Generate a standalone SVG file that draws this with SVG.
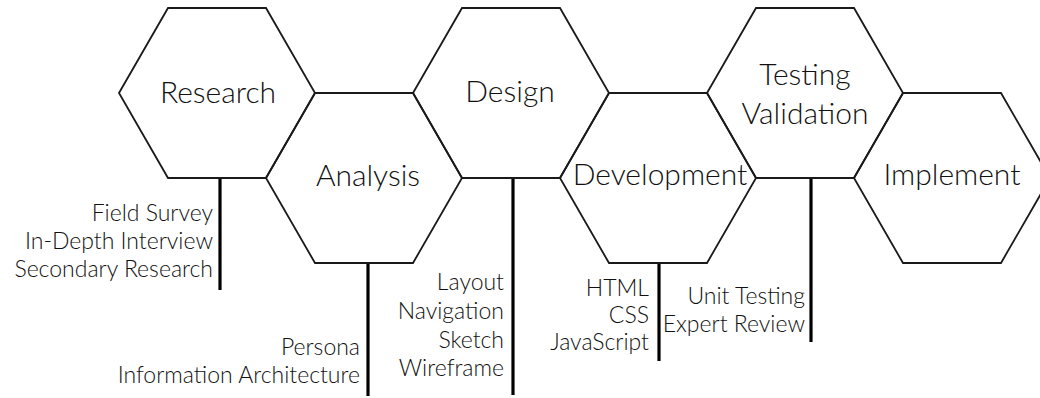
<svg xmlns="http://www.w3.org/2000/svg" xmlns:xlink="http://www.w3.org/1999/xlink" width="1040" height="398" viewBox="0 0 1040 398">
<style>
.hex{fill:none;stroke:#1a1a1a;stroke-width:1.8;stroke-linejoin:miter}
.stem{stroke:#000;stroke-width:3.2;fill:none}
.t{font-family:Lato,"Liberation Sans",sans-serif;font-weight:300;font-size:30px;fill:#111;text-anchor:middle}
.s{font-family:Lato,"Liberation Sans",sans-serif;font-weight:300;font-size:23px;fill:#111;text-anchor:end}
</style>
<defs>
<polygon id="hx" points="-98,0 -49,-85 49,-85 98,0 49,85 -49,85"/>
</defs>
<rect width="1040" height="398" fill="#fff"/>
<g id="connectors">
<line class="stem" x1="220" y1="178" x2="220" y2="290"/>
<line class="stem" x1="368" y1="263" x2="368" y2="396"/>
<line class="stem" x1="513" y1="178" x2="513" y2="395"/>
<line class="stem" x1="659" y1="263" x2="659" y2="361"/>
<line class="stem" x1="811" y1="178" x2="811" y2="342"/>
</g>
<g id="research">
<use xlink:href="#hx" href="#hx" class="hex" x="217" y="93"/>
<text class="t" x="218" y="103">Research</text>
<text class="s" x="213" y="221">Field Survey</text>
<text class="s" x="213" y="249">In-Depth Interview</text>
<text class="s" x="213" y="277">Secondary Research</text>
</g>
<g id="analysis">
<use xlink:href="#hx" href="#hx" class="hex" x="364" y="178"/>
<text class="t" x="368" y="186">Analysis</text>
<text class="s" x="360" y="355">Persona</text>
<text class="s" x="360" y="383">Information Architecture</text>
</g>
<g id="design">
<use xlink:href="#hx" href="#hx" class="hex" x="511" y="93"/>
<text class="t" x="510" y="102">Design</text>
<text class="s" x="504" y="290">Layout</text>
<text class="s" x="504" y="319">Navigation</text>
<text class="s" x="504" y="348">Sketch</text>
<text class="s" x="504" y="376">Wireframe</text>
</g>
<g id="development">
<use xlink:href="#hx" href="#hx" class="hex" x="658" y="178"/>
<text class="t" x="660" y="185">Development</text>
<text class="s" x="649" y="296">HTML</text>
<text class="s" x="649" y="323">CSS</text>
<text class="s" x="649" y="350">JavaScript</text>
</g>
<g id="testing">
<use xlink:href="#hx" href="#hx" class="hex" x="805" y="93"/>
<text class="t" x="805" y="85">Testing</text>
<text class="t" x="805" y="124">Validation</text>
<text class="s" x="805" y="304">Unit Testing</text>
<text class="s" x="805" y="332">Expert Review</text>
</g>
<g id="implement">
<use xlink:href="#hx" href="#hx" class="hex" x="952" y="178"/>
<text class="t" x="952" y="185">Implement</text>
</g>
</svg>
